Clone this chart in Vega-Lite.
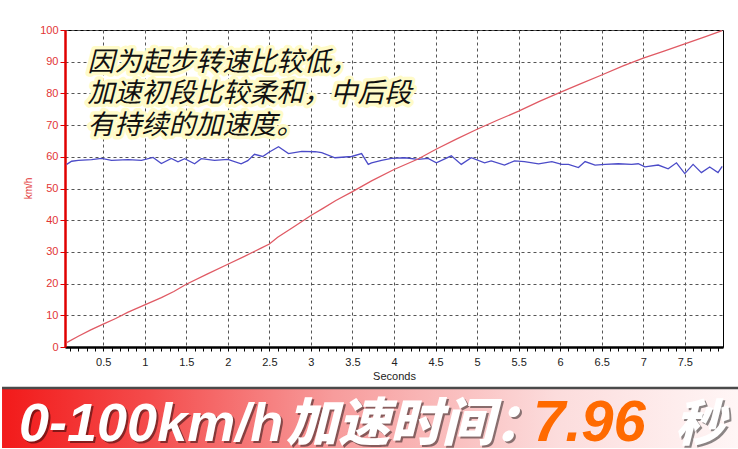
{
  "$schema": "https://vega.github.io/schema/vega-lite/v6.json",
  "padding": {"top": 23, "left": 0, "right": 0, "bottom": 0},
  "background": "white",
  "spacing": 4,
  "config": {
    "view": {"stroke": "#000", "strokeWidth": 1},
    "font": "Liberation Sans"
  },
  "datasets": {
    "curves": [
      {"t": 0.06, "v": 57.6, "s": "blue"}, {"t": 0.12, "v": 58.6, "s": "blue"}, {"t": 0.2, "v": 58.9, "s": "blue"},
      {"t": 0.36, "v": 59.1, "s": "blue"}, {"t": 0.48, "v": 59.5, "s": "blue"}, {"t": 0.6, "v": 58.9, "s": "blue"},
      {"t": 0.8, "v": 59.1, "s": "blue"}, {"t": 0.96, "v": 58.9, "s": "blue"}, {"t": 1.1, "v": 59.8, "s": "blue"},
      {"t": 1.2, "v": 57.9, "s": "blue"}, {"t": 1.32, "v": 59.5, "s": "blue"}, {"t": 1.4, "v": 58.4, "s": "blue"},
      {"t": 1.48, "v": 59.4, "s": "blue"}, {"t": 1.6, "v": 57.8, "s": "blue"}, {"t": 1.68, "v": 59.4, "s": "blue"},
      {"t": 1.84, "v": 58.9, "s": "blue"}, {"t": 2.0, "v": 59.2, "s": "blue"}, {"t": 2.16, "v": 57.8, "s": "blue"},
      {"t": 2.24, "v": 58.8, "s": "blue"}, {"t": 2.32, "v": 60.8, "s": "blue"}, {"t": 2.42, "v": 60.1, "s": "blue"},
      {"t": 2.5, "v": 61.5, "s": "blue"}, {"t": 2.61, "v": 63.2, "s": "blue"}, {"t": 2.73, "v": 61.0, "s": "blue"},
      {"t": 2.89, "v": 61.7, "s": "blue"}, {"t": 3.05, "v": 61.6, "s": "blue"}, {"t": 3.13, "v": 61.3, "s": "blue"},
      {"t": 3.29, "v": 59.7, "s": "blue"}, {"t": 3.49, "v": 60.1, "s": "blue"}, {"t": 3.61, "v": 61.0, "s": "blue"},
      {"t": 3.69, "v": 57.6, "s": "blue"}, {"t": 3.73, "v": 58.1, "s": "blue"}, {"t": 3.85, "v": 58.9, "s": "blue"},
      {"t": 3.97, "v": 59.5, "s": "blue"}, {"t": 4.13, "v": 59.7, "s": "blue"}, {"t": 4.29, "v": 59.2, "s": "blue"},
      {"t": 4.41, "v": 59.5, "s": "blue"}, {"t": 4.51, "v": 58.1, "s": "blue"}, {"t": 4.69, "v": 60.3, "s": "blue"},
      {"t": 4.81, "v": 57.6, "s": "blue"}, {"t": 4.93, "v": 59.7, "s": "blue"}, {"t": 5.09, "v": 58.1, "s": "blue"},
      {"t": 5.17, "v": 58.7, "s": "blue"}, {"t": 5.33, "v": 57.4, "s": "blue"}, {"t": 5.45, "v": 58.7, "s": "blue"},
      {"t": 5.57, "v": 58.5, "s": "blue"}, {"t": 5.74, "v": 57.8, "s": "blue"}, {"t": 5.9, "v": 58.5, "s": "blue"},
      {"t": 6.02, "v": 57.6, "s": "blue"}, {"t": 6.1, "v": 57.6, "s": "blue"}, {"t": 6.22, "v": 56.6, "s": "blue"},
      {"t": 6.3, "v": 58.5, "s": "blue"}, {"t": 6.42, "v": 57.4, "s": "blue"}, {"t": 6.54, "v": 57.6, "s": "blue"},
      {"t": 6.7, "v": 57.8, "s": "blue"}, {"t": 6.86, "v": 57.6, "s": "blue"}, {"t": 6.94, "v": 57.8, "s": "blue"},
      {"t": 7.02, "v": 56.8, "s": "blue"}, {"t": 7.18, "v": 57.4, "s": "blue"}, {"t": 7.3, "v": 56.2, "s": "blue"},
      {"t": 7.4, "v": 58.1, "s": "blue"}, {"t": 7.5, "v": 54.7, "s": "blue"}, {"t": 7.6, "v": 57.6, "s": "blue"},
      {"t": 7.7, "v": 55.0, "s": "blue"}, {"t": 7.8, "v": 56.8, "s": "blue"}, {"t": 7.9, "v": 55.0, "s": "blue"},
      {"t": 7.95, "v": 57.0, "s": "blue"},
      {"t": 0.06, "v": 1.4, "s": "red"}, {"t": 0.2, "v": 3.4, "s": "red"}, {"t": 0.35, "v": 5.4, "s": "red"},
      {"t": 0.5, "v": 7.2, "s": "red"}, {"t": 0.65, "v": 9.0, "s": "red"}, {"t": 0.8, "v": 11.0, "s": "red"},
      {"t": 1.0, "v": 13.3, "s": "red"}, {"t": 1.2, "v": 15.6, "s": "red"}, {"t": 1.35, "v": 17.5, "s": "red"},
      {"t": 1.5, "v": 19.8, "s": "red"}, {"t": 1.75, "v": 23.0, "s": "red"}, {"t": 2.0, "v": 26.1, "s": "red"},
      {"t": 2.2, "v": 28.6, "s": "red"}, {"t": 2.4, "v": 31.2, "s": "red"}, {"t": 2.5, "v": 32.5, "s": "red"},
      {"t": 2.6, "v": 34.6, "s": "red"}, {"t": 2.8, "v": 38.0, "s": "red"}, {"t": 3.0, "v": 41.5, "s": "red"},
      {"t": 3.15, "v": 43.8, "s": "red"}, {"t": 3.3, "v": 46.2, "s": "red"}, {"t": 3.5, "v": 49.0, "s": "red"},
      {"t": 3.73, "v": 52.4, "s": "red"}, {"t": 4.0, "v": 56.0, "s": "red"}, {"t": 4.29, "v": 59.3, "s": "red"},
      {"t": 4.5, "v": 62.3, "s": "red"}, {"t": 4.75, "v": 65.6, "s": "red"}, {"t": 5.0, "v": 68.7, "s": "red"},
      {"t": 5.25, "v": 71.6, "s": "red"}, {"t": 5.5, "v": 74.4, "s": "red"}, {"t": 5.75, "v": 77.5, "s": "red"},
      {"t": 6.0, "v": 80.3, "s": "red"}, {"t": 6.25, "v": 83.1, "s": "red"}, {"t": 6.5, "v": 85.8, "s": "red"},
      {"t": 6.75, "v": 88.6, "s": "red"}, {"t": 7.0, "v": 91.1, "s": "red"}, {"t": 7.25, "v": 93.3, "s": "red"},
      {"t": 7.5, "v": 95.6, "s": "red"}, {"t": 7.75, "v": 97.9, "s": "red"}, {"t": 7.95, "v": 99.8, "s": "red"}
    ],
    "notes": [
      {"t": 0.31, "v": 89.6, "line": "因为起步转速比较低，"},
      {"t": 0.31, "v": 79.8, "line": "加速初段比较柔和，中后段"},
      {"t": 0.31, "v": 69.7, "line": "有持续的加速度。"}
    ]
  },
  "vconcat": [
    {
      "width": 658,
      "height": 317,
      "layer": [
        {
          "data": {"name": "curves"},
          "mark": {"type": "line", "strokeWidth": 1.3},
          "encoding": {
            "x": {
              "field": "t", "type": "quantitative",
              "scale": {"domain": [0.04, 7.96], "nice": false, "zero": false},
              "axis": {
                "title": "Seconds",
                "values": [0.1,0.2,0.3,0.4,0.5,0.6,0.7,0.8,0.9,1,1.1,1.2,1.3,1.4,1.5,1.6,1.7,1.8,1.9,2,2.1,2.2,2.3,2.4,2.5,2.6,2.7,2.8,2.9,3,3.1,3.2,3.3,3.4,3.5,3.6,3.7,3.8,3.9,4,4.1,4.2,4.3,4.4,4.5,4.6,4.7,4.8,4.9,5,5.1,5.2,5.3,5.4,5.5,5.6,5.7,5.8,5.9,6,6.1,6.2,6.3,6.4,6.5,6.6,6.7,6.8,6.9,7,7.1,7.2,7.3,7.4,7.5,7.6,7.7,7.8,7.9],
                "tickCount": 500,
                "labelOverlap": false,
                "format": ".1~f",
                "labelExpr": "abs(datum.value*2-round(datum.value*2))<0.01 ? datum.label : ''",
                "grid": true,
                "gridDash": [3, 3],
                "gridColor": "#555",
                "gridWidth": 1,
                "gridOpacity": {"condition": {"test": "abs(datum.value*2-round(datum.value*2))<0.01", "value": 1}, "value": 0},
                "domainColor": "#000",
                "domainWidth": 2.5,
                "tickColor": "#000",
                "tickSize": 4,
                "tickWidth": 1,
                "labelColor": "#222",
                "labelFont": "Liberation Sans",
                "labelFontSize": 11,
                "labelPadding": 5,
                "labelFlush": false,
                "titleColor": "#222",
                "titleFont": "Liberation Sans",
                "titleFontSize": 11,
                "titleFontWeight": "normal",
                "titlePadding": 3
              }
            },
            "y": {
              "field": "v", "type": "quantitative",
              "scale": {"domain": [0, 100], "nice": false},
              "axis": {
                "title": "km/h",
                "values": [0, 10, 20, 30, 40, 50, 60, 70, 80, 90, 100],
                "format": "d",
                "tickCount": 500,
                "labelOverlap": false,
                "grid": true,
                "gridDash": [3, 3],
                "gridColor": "#555",
                "gridWidth": 1,
                "domainColor": "#e00000",
                "domainWidth": 2.5,
                "tickColor": "#e00000",
                "tickSize": 5,
                "labelColor": "#e23535",
                "labelFont": "Liberation Sans",
                "labelFontSize": 11,
                "labelPadding": 2,
                "titleColor": "#e23535",
                "titleFont": "Liberation Sans",
                "titleFontSize": 10,
                "titleFontWeight": "normal",
                "titleAngle": 270,
                "titleAlign": "center",
                "titleBaseline": "bottom",
                "titleX": -32,
                "titleY": 158,
                "minExtent": 63,
                "maxExtent": 63
              }
            },
            "color": {
              "field": "s", "type": "nominal",
              "scale": {"domain": ["blue", "red"], "range": ["#4b4bc8", "#e05a64"]},
              "legend": null
            },
            "order": {"field": "t", "type": "quantitative"}
          }
        },
        {
          "data": {"name": "notes"},
          "mark": {"type": "text", "align": "left", "baseline": "middle", "font": "Noto Sans CJK SC", "fontSize": 27, "fontStyle": "italic", "stroke": "#fffbc8", "strokeWidth": 7, "strokeJoin": "round", "fill": "#fffbc8"},
          "encoding": {
            "x": {"field": "t", "type": "quantitative"},
            "y": {"field": "v", "type": "quantitative"},
            "text": {"field": "line"}
          }
        },
        {
          "data": {"name": "notes"},
          "mark": {"type": "text", "align": "left", "baseline": "middle", "font": "Noto Sans CJK SC", "fontSize": 27, "fontStyle": "italic", "fill": "#111"},
          "encoding": {
            "x": {"field": "t", "type": "quantitative"},
            "y": {"field": "v", "type": "quantitative"},
            "text": {"field": "line"}
          }
        }
      ]
    },
    {
      "width": 675,
      "height": 60,
      "view": {"stroke": null},
      "encoding": {
        "x": {"field": "px", "type": "quantitative", "scale": {"domain": [0, 100], "nice": false, "zero": false}, "axis": null},
        "y": {"field": "py", "type": "quantitative", "scale": {"domain": [0, 100], "nice": false}, "axis": null}
      },
      "layer": [
        {
          "data": {"values": [{"px": -9.33, "px2": 100, "py": 0, "py2": 100}]},
          "mark": {
            "type": "rect",
            "fill": {"gradient": "linear", "x1": 0, "y1": 0, "x2": 1, "y2": 0,
              "stops": [
                {"offset": 0, "color": "#f21a1a"},
                {"offset": 0.2, "color": "#f44c4c"},
                {"offset": 0.45, "color": "#f79c9c"},
                {"offset": 0.75, "color": "#fcdcdc"},
                {"offset": 1, "color": "#fff6f6"}
              ]}
          },
          "encoding": {
            "x2": {"field": "px2"},
            "y2": {"field": "py2"}
          }
        },
        {
          "data": {"values": [{"px": -9.33, "px2": 100, "py": 100}]},
          "mark": {"type": "rule", "color": "#4a4a4a", "strokeWidth": 2.5},
          "encoding": {"x2": {"field": "px2"}}
        },
        {
          "data": {"values": [{"px": -6.81, "py": 11.7, "label": "0-100km/h"}]},
          "mark": {"type": "text", "align": "left", "baseline": "alphabetic", "font": "Liberation Sans", "fontSize": 54, "fontWeight": "bold", "fontStyle": "italic", "fill": "#000", "opacity": 0.45, "dx": 2, "dy": 2},
          "encoding": {"text": {"field": "label"}}
        },
        {
          "data": {"values": [{"px": -6.81, "py": 11.7, "label": "0-100km/h"}]},
          "mark": {"type": "text", "align": "left", "baseline": "alphabetic", "font": "Liberation Sans", "fontSize": 54, "fontWeight": "bold", "fontStyle": "italic", "fill": "#ffffff"},
          "encoding": {"text": {"field": "label"}}
        },
        {
          "data": {"values": [{"px": 32.74, "py": 11.7, "label": "加速时间："}]},
          "mark": {"type": "text", "align": "left", "baseline": "alphabetic", "font": "Noto Sans CJK SC", "fontSize": 52, "fontWeight": 900, "fontStyle": "italic", "fill": "#000", "opacity": 0.45, "dx": 2, "dy": 2},
          "encoding": {"text": {"field": "label"}}
        },
        {
          "data": {"values": [{"px": 32.74, "py": 11.7, "label": "加速时间："}]},
          "mark": {"type": "text", "align": "left", "baseline": "alphabetic", "font": "Noto Sans CJK SC", "fontSize": 52, "fontWeight": 900, "fontStyle": "italic", "fill": "#ffffff"},
          "encoding": {"text": {"field": "label"}}
        },
        {
          "data": {"values": [{"px": 69.33, "py": 11.7, "label": "7.96"}]},
          "mark": {"type": "text", "align": "left", "baseline": "alphabetic", "font": "Liberation Sans", "fontSize": 58, "fontWeight": "bold", "fontStyle": "italic", "fill": "#ff6a00"},
          "encoding": {"text": {"field": "label"}}
        },
        {
          "data": {"values": [{"px": 90.37, "py": 11.7, "label": "秒"}]},
          "mark": {"type": "text", "align": "left", "baseline": "alphabetic", "font": "Noto Sans CJK SC", "fontSize": 50, "fontWeight": 900, "fontStyle": "italic", "fill": "#000", "opacity": 0.45, "dx": 2, "dy": 2},
          "encoding": {"text": {"field": "label"}}
        },
        {
          "data": {"values": [{"px": 90.37, "py": 11.7, "label": "秒"}]},
          "mark": {"type": "text", "align": "left", "baseline": "alphabetic", "font": "Noto Sans CJK SC", "fontSize": 50, "fontWeight": 900, "fontStyle": "italic", "fill": "#ffffff"},
          "encoding": {"text": {"field": "label"}}
        }
      ]
    }
  ]
}
